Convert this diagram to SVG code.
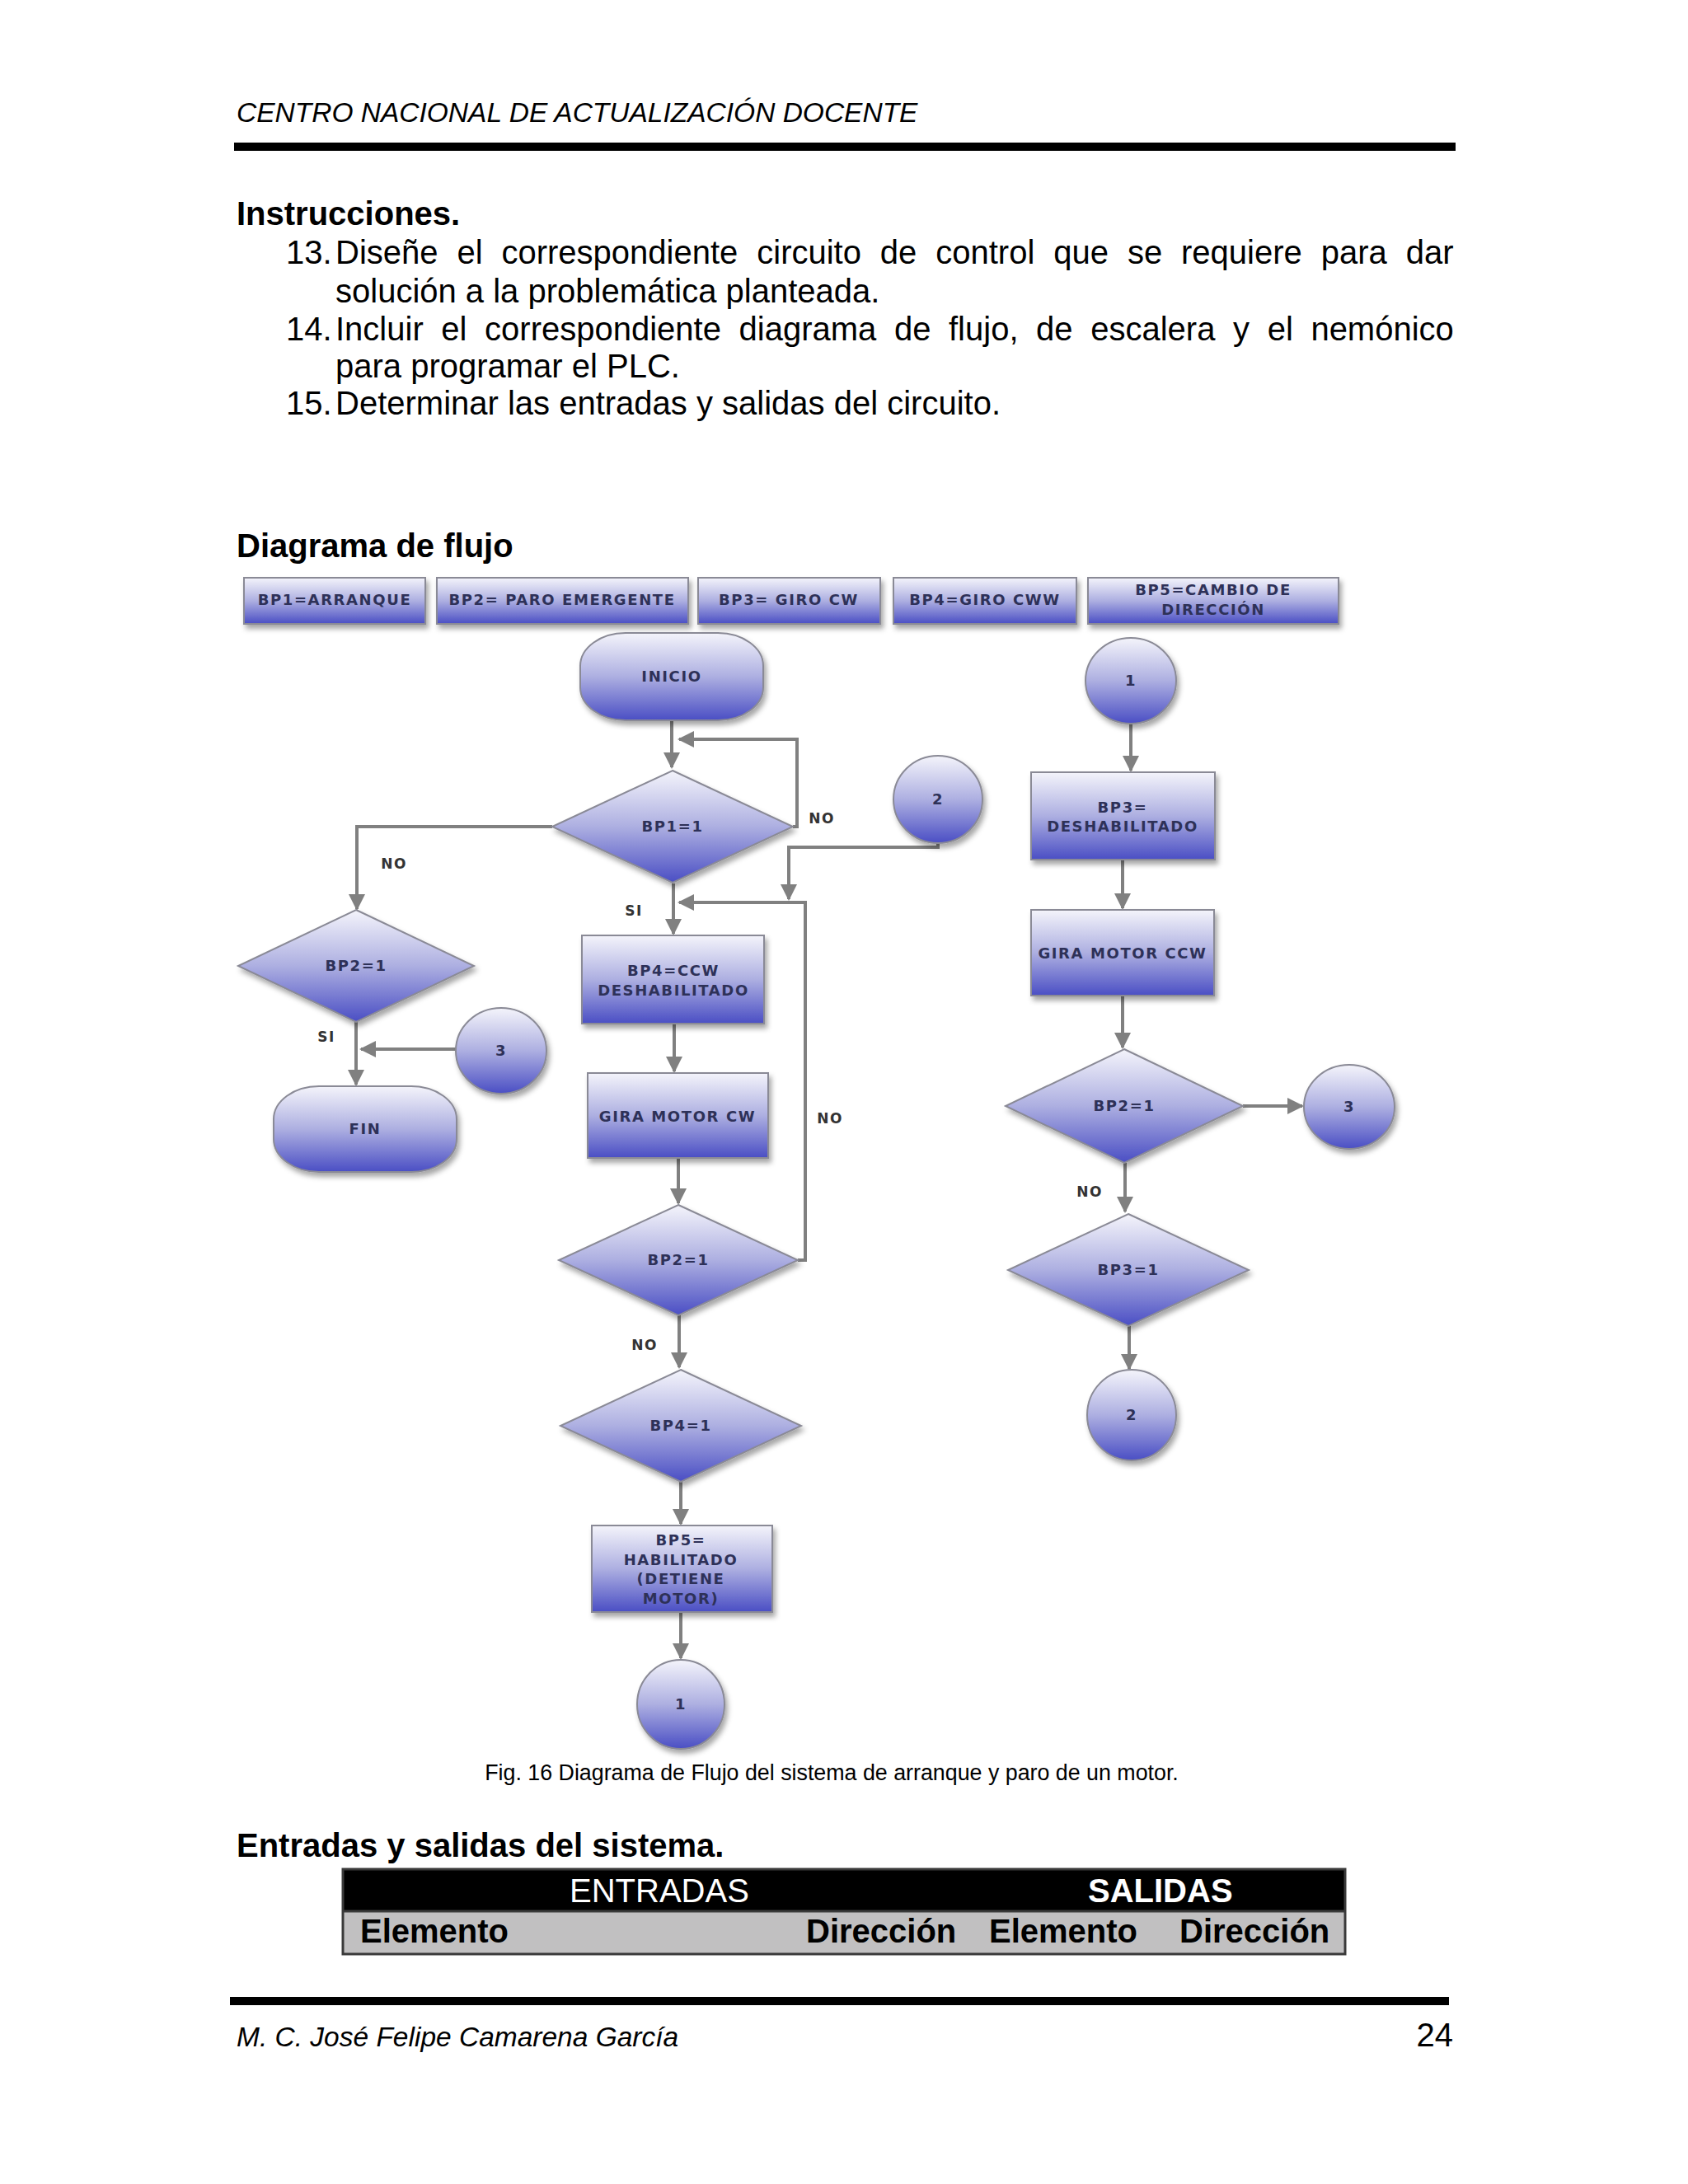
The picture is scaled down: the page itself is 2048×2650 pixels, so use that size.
<svg xmlns="http://www.w3.org/2000/svg" width="2048" height="2650" viewBox="0 0 2048 2650">
<defs>
<linearGradient id="g" x1="0" y1="0" x2="0" y2="1">
<stop offset="0" stop-color="#f4f4fb"/>
<stop offset="0.5" stop-color="#adafe1"/>
<stop offset="1" stop-color="#4a4ec4"/>
</linearGradient>
<filter id="sh" x="-20%" y="-20%" width="150%" height="160%">
<feDropShadow dx="3" dy="5" stdDeviation="3" flood-color="#000" flood-opacity="0.35"/>
</filter>
<marker id="ah" viewBox="0 0 10 10" refX="9" refY="5" markerWidth="5" markerHeight="5" orient="auto" markerUnits="strokeWidth">
<path d="M0,0 L10,5 L0,10 Z" fill="#808080"/>
</marker>
</defs>
<style>
.node{fill:url(#g);stroke:#8a8a96;stroke-width:2;filter:url(#sh)}
.nt{font-family:"DejaVu Sans",Verdana,sans-serif;font-weight:bold;font-size:18px;fill:#2e3158;text-anchor:middle;letter-spacing:1.6px}
.lbl{font-family:"DejaVu Sans",Verdana,sans-serif;font-weight:bold;font-size:17px;fill:#333;text-anchor:middle;letter-spacing:1.5px}
.conn path{fill:none;stroke:#808080;stroke-width:4;marker-end:url(#ah)}
.b{font-family:"Liberation Sans",Arial,sans-serif;font-size:40px;fill:#000}
.bb{font-family:"Liberation Sans",Arial,sans-serif;font-size:40px;font-weight:bold;fill:#000}
.it{font-family:"Liberation Sans",Arial,sans-serif;font-size:33.5px;font-style:italic;fill:#000}
</style>
<rect x="0" y="0" width="2048" height="2650" fill="#fff"/>

<!-- page text -->
<text class="it" x="287" y="148">CENTRO NACIONAL DE ACTUALIZACIÓN DOCENTE</text>
<rect x="284" y="173" width="1482" height="10" fill="#000"/>
<text class="bb" x="287" y="273">Instrucciones.</text>
<text class="b" x="347" y="320">13.</text>
<text class="b" x="407" y="320" word-spacing="11.8">Diseñe el correspondiente circuito de control que se requiere para dar</text>
<text class="b" x="407" y="367">solución a la problemática planteada.</text>
<text class="b" x="347" y="413">14.</text>
<text class="b" x="407" y="413" word-spacing="10.5">Incluir el correspondiente diagrama de flujo, de escalera y el nemónico</text>
<text class="b" x="407" y="458">para programar el PLC.</text>
<text class="b" x="347" y="503">15.</text>
<text class="b" x="407" y="503">Determinar las entradas y salidas del circuito.</text>
<text class="bb" x="287" y="676">Diagrama de flujo</text>

<!-- legend -->
<g id="legend1"><rect class="node" x="296" y="701" width="220" height="56"/><text class="nt" x="406" y="734">BP1=ARRANQUE</text></g>
<g id="legend2"><rect class="node" x="530" y="701" width="305" height="56"/><text class="nt" x="682" y="734">BP2= PARO EMERGENTE</text></g>
<g id="legend3"><rect class="node" x="847" y="701" width="221" height="56"/><text class="nt" x="957" y="734">BP3= GIRO CW</text></g>
<g id="legend4"><rect class="node" x="1084" y="701" width="222" height="56"/><text class="nt" x="1195" y="734">BP4=GIRO CWW</text></g>
<g id="legend5"><rect class="node" x="1320" y="701" width="304" height="56"/><text class="nt" x="1472" y="722">BP5=CAMBIO DE</text><text class="nt" x="1472" y="746">DIRECCIÓN</text></g>

<!-- connectors -->
<g class="conn">
<path d="M815,874 V931"/>
<path d="M962,1003 H967 V897 H824"/>
<path d="M1138,1023 V1028 H957 V1091"/>
<path d="M817,1072 V1133"/>
<path d="M968,1529 H977 V1095 H824"/>
<path d="M818,1242 V1300"/>
<path d="M823,1405 V1460"/>
<path d="M824,1596 V1659"/>
<path d="M826,1797 V1849"/>
<path d="M826,1956 V2012"/>
<path d="M670,1003 H433 V1103"/>
<path d="M432,1240 V1316"/>
<path d="M553,1273 H438"/>
<path d="M1372,878 V935"/>
<path d="M1362,1043 V1102"/>
<path d="M1362,1208 V1271"/>
<path d="M1508,1342 H1580"/>
<path d="M1365,1411 V1470"/>
<path d="M1370,1609 V1661"/>
</g>

<!-- connector labels -->
<text class="lbl" x="997" y="999">NO</text>
<text class="lbl" x="478" y="1054">NO</text>
<text class="lbl" x="769" y="1111">SI</text>
<text class="lbl" x="396" y="1264">SI</text>
<text class="lbl" x="1007" y="1363">NO</text>
<text class="lbl" x="782" y="1638">NO</text>
<text class="lbl" x="1322" y="1452">NO</text>

<!-- nodes -->
<g id="inicio"><rect class="node" x="704" y="768" width="222" height="106" rx="55" ry="40"/><text class="nt" x="815" y="827">INICIO</text></g>
<g id="bp1"><polygon class="node" points="816,935 962,1003 816,1071 670,1003"/><text class="nt" x="816" y="1009">BP1=1</text></g>
<g id="c2a"><ellipse class="node" cx="1138" cy="970" rx="54" ry="53"/><text class="nt" x="1138" y="976">2</text></g>
<g id="bp2l"><polygon class="node" points="432,1104 575,1172 432,1240 289,1172"/><text class="nt" x="432" y="1178">BP2=1</text></g>
<g id="c3a"><ellipse class="node" cx="608" cy="1275" rx="55" ry="52"/><text class="nt" x="608" y="1281">3</text></g>
<g id="fin"><rect class="node" x="332" y="1318" width="222" height="104" rx="55" ry="40"/><text class="nt" x="443" y="1376">FIN</text></g>
<g id="bp4ccw"><rect class="node" x="706" y="1135" width="221" height="107"/><text class="nt" x="817" y="1184">BP4=CCW</text><text class="nt" x="817" y="1208">DESHABILITADO</text></g>
<g id="giracw"><rect class="node" x="713" y="1302" width="219" height="103"/><text class="nt" x="822" y="1361">GIRA MOTOR CW</text></g>
<g id="bp2m"><polygon class="node" points="823,1462 968,1529 823,1596 678,1529"/><text class="nt" x="823" y="1535">BP2=1</text></g>
<g id="bp4d"><polygon class="node" points="826,1662 972,1730 826,1798 680,1730"/><text class="nt" x="826" y="1736">BP4=1</text></g>
<g id="bp5"><rect class="node" x="718" y="1851" width="219" height="105"/><text class="nt" x="826" y="1875">BP5=</text><text class="nt" x="826" y="1899">HABILITADO</text><text class="nt" x="826" y="1922">(DETIENE</text><text class="nt" x="826" y="1946">MOTOR)</text></g>
<g id="c1b"><ellipse class="node" cx="826" cy="2068" rx="53" ry="54"/><text class="nt" x="826" y="2074">1</text></g>
<g id="c1a"><ellipse class="node" cx="1372" cy="826" rx="55" ry="52"/><text class="nt" x="1372" y="832">1</text></g>
<g id="bp3des"><rect class="node" x="1251" y="937" width="223" height="106"/><text class="nt" x="1362" y="986">BP3=</text><text class="nt" x="1362" y="1009">DESHABILITADO</text></g>
<g id="giraccw"><rect class="node" x="1251" y="1104" width="222" height="104"/><text class="nt" x="1362" y="1163">GIRA MOTOR CCW</text></g>
<g id="bp2r"><polygon class="node" points="1364,1273 1508,1342 1364,1411 1220,1342"/><text class="nt" x="1364" y="1348">BP2=1</text></g>
<g id="c3b"><ellipse class="node" cx="1637" cy="1343" rx="55" ry="51"/><text class="nt" x="1637" y="1349">3</text></g>
<g id="bp3d"><polygon class="node" points="1369,1473 1515,1541 1369,1609 1223,1541"/><text class="nt" x="1369" y="1547">BP3=1</text></g>
<g id="c2b"><ellipse class="node" cx="1373" cy="1717" rx="54" ry="55"/><text class="nt" x="1373" y="1723">2</text></g>

<!-- caption and table -->
<text x="1009" y="2160" text-anchor="middle" font-family="Liberation Sans, Arial, sans-serif" font-size="26.8" fill="#000">Fig. 16 Diagrama de Flujo del sistema de arranque y paro de un motor.</text>
<text class="bb" x="287" y="2253">Entradas y salidas del sistema.</text>
<g id="table">
<rect x="416" y="2268" width="1216" height="51" fill="#000"/>
<rect x="416" y="2319" width="1216" height="52" fill="#c1c0c1"/>
<rect x="416" y="2268" width="1216" height="103" fill="none" stroke="#3a3a3a" stroke-width="3"/>
<line x1="416" y1="2319" x2="1632" y2="2319" stroke="#3a3a3a" stroke-width="3"/>
<text class="b" x="691" y="2308" style="fill:#fff">ENTRADAS</text>
<text class="bb" x="1320" y="2308" style="fill:#fff">SALIDAS</text>
<text class="bb" x="437" y="2357">Elemento</text>
<text class="bb" x="978" y="2357">Dirección</text>
<text class="bb" x="1200" y="2357">Elemento</text>
<text class="bb" x="1431" y="2357">Dirección</text>
</g>
<rect x="279" y="2423" width="1479" height="10" fill="#000"/>
<text class="it" x="287" y="2483">M. C. José Felipe Camarena García</text>
<text class="b" x="1763" y="2483" text-anchor="end">24</text>
</svg>
